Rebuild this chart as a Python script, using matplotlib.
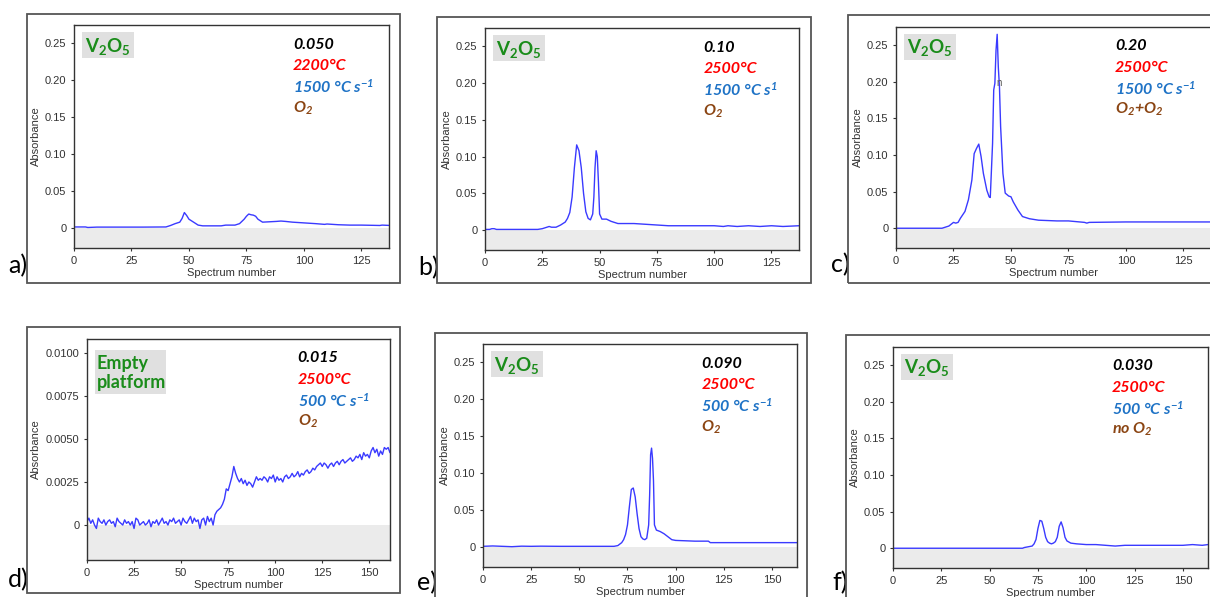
import matplotlib
matplotlib.use('Agg')
import matplotlib.pyplot as plt
from matplotlib.patches import Rectangle

plt.rcParams['font.family'] = ['Liberation Sans', 'DejaVu Sans']
plt.rcParams['mathtext.fontset'] = 'custom'
plt.rcParams['mathtext.rm'] = 'Lato:italic:bold'
plt.rcParams['mathtext.it'] = 'Lato:italic:bold'
plt.rcParams['mathtext.bf'] = 'Lato:bold'

# ---------------- data ----------------
a_x = [0, 5, 6, 10, 20, 30, 40, 42, 44, 46, 47, 48, 49, 50, 52, 54, 56, 60, 64, 66, 70, 72, 74, 75, 76, 77, 78, 79, 80, 82, 85, 88, 90, 92, 95, 100, 105, 109, 110, 115, 120, 125, 130, 133, 134, 137]
a_y = [0.0015, 0.0015, 0.0008, 0.0013, 0.0013, 0.0013, 0.0015, 0.0035, 0.006, 0.008, 0.013, 0.021, 0.017, 0.012, 0.008, 0.004, 0.003, 0.003, 0.003, 0.004, 0.004, 0.006, 0.012, 0.016, 0.019, 0.018, 0.0175, 0.016, 0.012, 0.008, 0.0085, 0.009, 0.0095, 0.009, 0.008, 0.007, 0.006, 0.005, 0.0055, 0.0045, 0.004, 0.004, 0.0037, 0.0035, 0.004, 0.0036]

b_x = [0, 2, 3, 4, 5, 10, 20, 23, 25, 27, 28, 29, 31, 33, 35, 36, 37, 38, 39, 40, 41, 42, 43, 44, 45, 46, 47, 47.5, 48, 48.5, 49, 49.5, 50, 51, 53, 55, 58, 65, 70, 75, 80, 100, 104, 106, 110, 115, 120, 125, 130, 137]
b_y = [0.001, 0.001, 0.002, 0.002, 0.001, 0.001, 0.001, 0.001, 0.002, 0.004, 0.005, 0.004, 0.004, 0.007, 0.011, 0.016, 0.024, 0.045, 0.085, 0.116, 0.108, 0.085, 0.05, 0.025, 0.016, 0.014, 0.022, 0.045, 0.085, 0.108, 0.1, 0.065, 0.022, 0.015, 0.015, 0.012, 0.009, 0.009, 0.008, 0.007, 0.006, 0.006, 0.005, 0.006, 0.005, 0.006, 0.005, 0.006, 0.005, 0.006]

c_x = [0, 20, 21, 23, 25, 26, 27, 28, 30, 31.5, 33, 34, 35, 36, 37, 38, 39.5, 40.5, 41, 42, 42.5, 43, 43.5, 44, 44.5, 45, 45.5, 46.5, 47.5, 49, 50, 51, 53, 55, 58, 62, 70, 75, 82, 83, 84, 100, 137]
c_y = [0, 0, 0.001, 0.003, 0.008, 0.007, 0.008, 0.0136, 0.023, 0.039, 0.066, 0.102, 0.109, 0.115, 0.098, 0.075, 0.052, 0.043, 0.042, 0.116, 0.189, 0.198, 0.243, 0.265, 0.22, 0.193, 0.139, 0.075, 0.048, 0.044, 0.043, 0.036, 0.025, 0.016, 0.013, 0.011, 0.010, 0.010, 0.008, 0.007, 0.008, 0.0086, 0.0086]

d_y = [0.0002, 0.0004, 0.0001, 0.0003, 0.0000, -0.0002, 0.0004, 0.0002, 0.0001, 0.0003,
       0.0000, 0.0002, 0.0003, 0.0001, 0.0002, -0.0001, 0.0004, 0.0002, 0.0001, 0.0000,
       0.0003, 0.0001, 0.0002, 0.0000, 0.0002, -0.0002, 0.0004, 0.0003, 0.0000, 0.0001,
       0.0002, 0.0000, 0.0001, 0.0003, -0.0001, 0.0002, 0.0001, 0.0003, 0.0000, 0.0002,
       0.0004, 0.0001, 0.0002, 0.0000, 0.0003, 0.0002, 0.0004, 0.0001, 0.0002, 0.0003,
       0.0000, 0.0004, 0.0002, 0.0001, 0.0003, 0.0005, 0.0001, 0.0004, 0.0002, 0.0003,
       -0.0002, 0.0003, 0.0004, 0.0000, 0.0005, 0.0002, 0.0004, 0.0000, 0.0006, 0.0008,
       0.0009, 0.0010, 0.0012, 0.0015, 0.0021, 0.0020, 0.0024, 0.0028, 0.0034, 0.0030,
       0.0027, 0.0025, 0.0027, 0.0024, 0.0026, 0.0023, 0.0025, 0.0024, 0.0022, 0.0025,
       0.0028, 0.0026, 0.0027, 0.0026, 0.0028, 0.0027, 0.0025, 0.0028, 0.0027, 0.0029,
       0.0025, 0.0028, 0.0026, 0.0027, 0.0025, 0.0028, 0.0029, 0.0027, 0.0028, 0.0030,
       0.0028, 0.0029, 0.0031, 0.0028, 0.0030, 0.0029, 0.0031, 0.0032, 0.0030, 0.0031,
       0.0033, 0.0032, 0.0034, 0.0035, 0.0036, 0.0034, 0.0036, 0.0035, 0.0033, 0.0035,
       0.0036, 0.0034, 0.0036, 0.0037, 0.0035, 0.0037, 0.0038, 0.0036, 0.0037, 0.0038,
       0.0039, 0.0037, 0.0038, 0.0040, 0.0039, 0.0041, 0.0038, 0.0042, 0.0040, 0.0041,
       0.0039, 0.0043, 0.0045, 0.0042, 0.0044, 0.0040, 0.0043, 0.0041, 0.0045, 0.0044,
       0.0045, 0.0042, 0.0043]
d_x = list(range(len(d_y)))

e_x = [0, 5, 10, 15, 20, 25, 30, 40, 50, 60, 68, 70, 72, 73, 74, 75, 76, 77, 78, 79, 80, 81, 82, 83, 84, 85, 86, 86.5, 87, 87.5, 88, 88.5, 89, 90, 92, 94, 96, 98, 100, 110, 117, 118, 130, 145, 163]
e_y = [0.001, 0.0015, 0.001, 0.0005, 0.0012, 0.001, 0.0012, 0.001, 0.001, 0.001, 0.001, 0.002, 0.006, 0.010, 0.017, 0.030, 0.055, 0.078, 0.080, 0.068, 0.045, 0.025, 0.014, 0.011, 0.010, 0.012, 0.030, 0.070, 0.125, 0.134, 0.120, 0.090, 0.030, 0.023, 0.021, 0.018, 0.014, 0.010, 0.009, 0.008, 0.008, 0.006, 0.006, 0.006, 0.006]

f_x = [0, 20, 40, 60, 67, 68, 70, 72, 73, 74, 75, 76, 77, 78, 79, 80, 81, 82, 83, 84, 85, 86, 87, 88, 89, 90, 92, 95, 100, 105, 110, 115, 120, 130, 140, 150, 155, 160, 163]
f_y = [0.0, 0.0, 0.0, 0.0, 0.0, 0.001, 0.002, 0.003, 0.006, 0.012, 0.027, 0.038, 0.037, 0.027, 0.015, 0.009, 0.007, 0.006, 0.007, 0.009, 0.015, 0.030, 0.036, 0.028, 0.015, 0.010, 0.007, 0.006, 0.005, 0.005, 0.004, 0.003, 0.004, 0.004, 0.004, 0.004, 0.005, 0.004, 0.005]

v_ticks = [0, 0.05, 0.10, 0.15, 0.20, 0.25]
v_ticklabels = ['0', '0.05', '0.10', '0.15', '0.20', '0.25']
d_ticks = [0, 0.0025, 0.0050, 0.0075, 0.0100]
d_ticklabels = ['0', '0.0025', '0.0050', '0.0075', '0.0100']
top_xticks = [0, 25, 50, 75, 100, 125]
bot_xticks = [0, 25, 50, 75, 100, 125, 150]

sample_labels = ['V$_2$O$_5$', 'V$_2$O$_5$', 'V$_2$O$_5$', 'Empty\nplatform', 'V$_2$O$_5$', 'V$_2$O$_5$']
amounts = ['0.050', '0.10', '0.20', '0.015', '0.090', '0.030']
temps = ['2200°C', '2500°C', '2500°C', '2500°C', '2500°C', '2500°C']
rates = ['1500 °C s$^{-1}$', '1500 °C s$^{1}$', '1500 °C s$^{-1}$', '500 °C s$^{-1}$', '500 °C s$^{-1}$', '500 °C s$^{-1}$']
gases = ['O$_2$', 'O$_2$', 'O$_2$+O$_2$', 'O$_2$', 'O$_2$', 'no O$_2$']
panel_letters = ['a)', 'b)', 'c)', 'd)', 'e)', 'f)']

# ---------------- layout (pixels) ----------------
W, H = 1210, 597
fig = plt.figure(figsize=(W / 100, H / 100), dpi=100)
fig.patch.set_facecolor('white')


def fr(l, t, r, b):
    return [l / W, 1 - b / H, (r - l) / W, (b - t) / H]


frames = [(27, 14, 400, 283), (437, 17, 811, 283), (848, 15, 1240, 283),
          (27, 327, 400, 593), (435, 333, 807, 620), (846, 335, 1240, 620)]
axes_px = [(74, 25, 389, 248), (485, 28, 799, 250), (896, 27, 1211, 248),
           (87, 339, 390, 560), (483, 344, 797, 567), (893, 347, 1208, 568)]
letter_pos = [(8, 266), (418, 268), (831, 265), (8, 580), (417, 583), (832, 583)]

for (l, t, r, b) in frames:
    fig.add_artist(Rectangle((l / W, 1 - b / H), (r - l) / W, (b - t) / H,
                             transform=fig.transFigure, fill=False,
                             ec='#555555', lw=1.3, zorder=5))

series = [(a_x, a_y), (b_x, b_y), (c_x, c_y), (d_x, d_y), (e_x, e_y), (f_x, f_y)]
blue_line = '#3a3aff'

for i in range(6):
    ax = fig.add_axes(fr(*axes_px[i]))
    x, y = series[i]
    if i == 3:
        ylo, yhi = -0.00203, 0.0108
        ax.set_yticks(d_ticks, d_ticklabels)
        ax.set_xlim(0, 161)
        ax.set_xticks(bot_xticks)
    else:
        ylo, yhi = -0.027, 0.275
        ax.set_yticks(v_ticks, v_ticklabels)
        if i < 3:
            ax.set_xlim(0, 137)
            ax.set_xticks(top_xticks)
        else:
            ax.set_xlim(0, 163)
            ax.set_xticks(bot_xticks)
    ax.set_ylim(ylo, yhi)
    ax.axhspan(ylo, 0, color='#ebebeb', lw=0, zorder=0)
    ax.plot(x, y, color=blue_line, lw=1.0, zorder=2)
    for s in ax.spines.values():
        s.set_color('#333333')
        s.set_linewidth(1.0)
    ax.tick_params(direction='out', length=2.5, width=0.8, colors='#333333',
                   labelsize=8, labelcolor='#333333', pad=3)
    ax.set_xlabel('Spectrum number', fontsize=8, color='#333333', labelpad=2)
    ax.set_ylabel('Absorbance', fontsize=8, color='#333333', labelpad=3)

    # sample box
    if i == 3:
        ax.add_patch(Rectangle((0.026, 0.75), 0.234, 0.20, transform=ax.transAxes,
                               color='#e0e0e0', lw=0, zorder=3))
        ax.text(0.033, 0.848, sample_labels[i], transform=ax.transAxes,
                ha='left', va='center', fontsize=13, color='#1a8c1a',
                family='Lato', fontweight='bold', zorder=4, linespacing=1.15)
    else:
        ax.add_patch(Rectangle((0.025, 0.852), 0.165, 0.118, transform=ax.transAxes,
                               color='#e0e0e0', lw=0, zorder=3))
        ax.text(0.107, 0.905, r'$\mathbf{V_2O_5}$', transform=ax.transAxes,
                ha='center', va='center', fontsize=13.5, color='#1a8c1a', zorder=4)

    lines = [(amounts[i], 'black'), (temps[i], '#ff0000'),
             (rates[i], '#1f73c6'), (gases[i], '#8b4513')]
    for k, (s, c) in enumerate(lines):
        ax.text(0.695, 0.912 - k * 0.0955, s, transform=ax.transAxes, color=c,
                fontsize=11.5, ha='left', va='center', family='Lato',
                fontweight='bold', fontstyle='italic', zorder=4)

    if i == 2:
        ax.text(44.7, 0.198, 'n', fontsize=7, color='#555555', ha='center',
                va='center', zorder=4)

for (lx, ly), lab in zip(letter_pos, panel_letters):
    fig.text(lx / W, 1 - ly / H, lab, fontsize=18, family='Lato',
             ha='left', va='center', color='black')

fig.savefig('out.png', dpi=100)
